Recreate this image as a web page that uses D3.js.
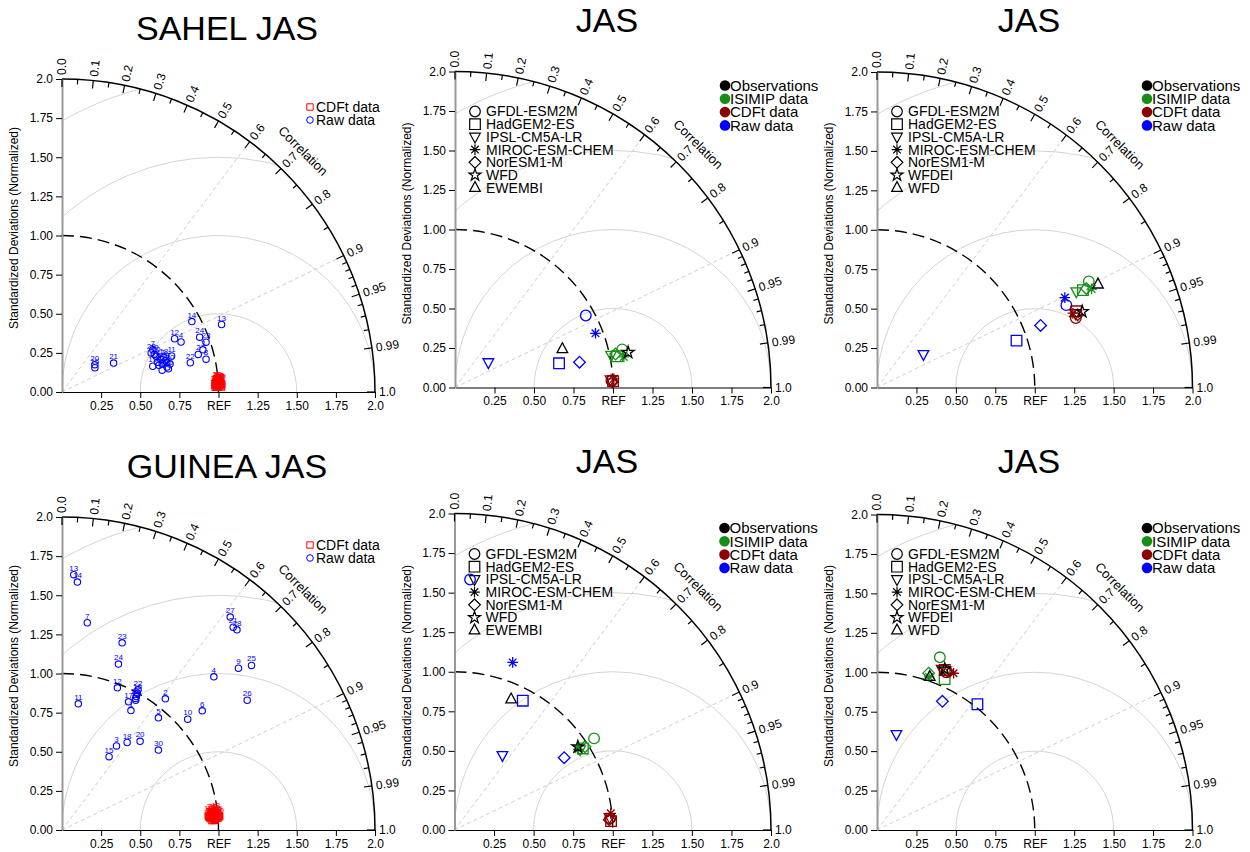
<!DOCTYPE html>
<html>
<head>
<meta charset="utf-8">
<script src="https://cdn.jsdelivr.net/npm/d3@7"></script>
<style>
  body { margin: 0; background: #fff; }
  text { font-family: "Liberation Sans", Arial, Helvetica, sans-serif; }
</style>
</head>
<body>
<script>
// ---- data (normalized standard deviation + correlation) ----
const sahelRawSd = [0.643,0.903,0.940,0.825,0.665,0.689,0.640,0.944,0.690,0.643,0.737,0.796,1.107,0.944,0.655,0.261,0.664,0.686,0.603,0.273,0.378,0.841,0.974,0.947,0.696,0.639,0.696,0.622,0.637,0.713];
const sahelRawCor = [0.964,0.964,0.958,0.922,0.963,0.973,0.907,0.975,0.957,0.934,0.950,0.904,0.921,0.879,0.977,0.805,0.949,0.947,0.962,0.768,0.872,0.975,0.945,0.929,0.977,0.955,0.962,0.916,0.926,0.968];
const sahelCdftSd = [1.00,0.99,1.01,0.98,1.02,1.00,0.99,1.01,1.00,0.98,1.02,0.99,1.00,1.01,0.99,1.00,1.02,0.98,1.01,1.00,0.99,1.00,1.01,0.99,1.02,1.00,0.98,1.01,1.00,0.99];
const sahelCdftCor = [0.999,0.998,0.999,0.9985,0.999,0.9995,0.998,0.9985,0.999,0.999,0.9995,0.9975,0.999,0.998,0.9992,0.9985,0.9988,0.9995,0.9978,0.9992,0.9985,0.999,0.9982,0.9995,0.9985,0.998,0.999,0.9992,0.9975,0.9988];

const guineaRawSd = [0.881,1.067,0.640,1.378,0.945,1.176,1.334,0.976,1.530,1.071,0.813,0.975,1.633,1.587,0.557,0.998,0.923,0.697,0.953,0.755,1.696,1.019,1.256,1.120,1.604,1.445,1.734,1.699,0.963,0.800];
const guineaRawCor = [0.500,0.619,0.544,0.704,0.652,0.762,0.121,0.487,0.737,0.750,0.128,0.363,0.046,0.062,0.540,0.483,0.461,0.597,0.494,0.661,0.645,0.477,0.306,0.322,0.755,0.819,0.620,0.658,0.488,0.770];
const guineaCdftSd = [0.97,0.95,0.99,0.96,1.00,0.98,0.94,0.97,1.01,0.96,0.98,0.95,0.99,0.97,1.00,0.96,0.98,0.94,0.99,0.97,0.95,1.00,0.98,0.96,0.97,0.99,0.95,0.98,1.01,0.97];
const guineaCdftCor = [0.996,0.997,0.995,0.9965,0.997,0.994,0.996,0.998,0.996,0.995,0.9975,0.996,0.993,0.997,0.9955,0.998,0.996,0.995,0.997,0.994,0.9965,0.996,0.998,0.9935,0.995,0.997,0.996,0.9945,0.9965,0.997];
const stationLabels = d3.range(1, 31);

const models = ["GFDL-ESM2M", "HadGEM2-ES", "IPSL-CM5A-LR", "MIROC-ESM-CHEM", "NorESM1-M"];
const modelShapes = ["circle", "square", "triDown", "asterisk", "diamond"];
const groupNames = ["Observations", "ISIMIP data", "CDFt data", "Raw data"];

// top middle
const sahelEnsRefs = ["WFD", "EWEMBI"];
const sahelEnsRawSd = [0.945,0.676,0.264,0.953,0.804];
const sahelEnsRawCor = [0.876,0.974,0.800,0.933,0.980];
const sahelEnsIsimipSd = [1.085,1.045,1.009,1.086,1.038];
const sahelEnsIsimipCor = [0.975,0.982,0.979,0.984,0.979];
const sahelEnsCdftSd = [0.991,1.001,0.986,1.007,0.996];
const sahelEnsCdftCor = [0.999,0.9992,0.9987,0.9985,0.9994];
const sahelEnsObsSd = [1.118,0.722];
const sahelEnsObsCor = [0.980,0.941];

// top right
const sahelEns2Refs = ["WFDEI", "WFD"];
const sahelEns2RawSd = [1.309,0.933,0.362,1.320,1.109];
const sahelEns2RawCor = [0.917,0.948,0.813,0.902,0.935];
const sahelEns2IsimipSd = [1.502,1.444,1.402,1.497,1.468];
const sahelEns2IsimipCor = [0.894,0.904,0.901,0.909,0.904];
const sahelEns2CdftSd = [1.335,1.352,1.344,1.328,1.353];
const sahelEns2CdftCor = [0.944,0.934,0.937,0.935,0.940];
const sahelEns2ObsSd = [1.387,1.546];
const sahelEns2ObsCor = [0.938,0.906];

// bottom middle
const guineaEnsRefs = ["WFD", "EWEMBI"];
const guineaEnsRawSd = [1.586,0.924,0.561,1.121,0.830];
const guineaEnsRawCor = [0.062,0.467,0.540,0.328,0.835];
const guineaEnsIsimipSd = [1.055,0.961,0.943,0.934,0.978];
const guineaEnsIsimipCor = [0.836,0.844,0.842,0.838,0.843];
const guineaEnsCdftSd = [0.986,0.991,0.983,0.993,0.980];
const guineaEnsCdftCor = [0.9972,0.9984,0.9967,0.9944,0.9978];
const guineaEnsObsSd = [0.940,0.901];
const guineaEnsObsCor = [0.829,0.397];

// bottom right
const guineaEns2Refs = ["WFDEI", "WFD"];
const guineaEns2RawSd = [null,1.020,0.619,null,0.915];
const guineaEns2RawCor = [null,0.624,0.199,null,0.453];
const guineaEns2IsimipSd = [1.165,1.048,1.094,1.025,1.047];
const guineaEns2IsimipCor = [0.342,0.409,0.384,0.322,0.313];
const guineaEns2CdftSd = [1.093,1.102,1.099,1.106,1.101];
const guineaEns2CdftCor = [0.403,0.390,0.373,0.439,0.409];
const guineaEns2ObsSd = [1.107,1.028];
const guineaEns2ObsCor = [0.388,0.325];

const sdTicks = [0, 0.25, 0.5, 0.75, 1, 1.25, 1.5, 1.75, 2];
const corLabels = [0, 0.1, 0.2, 0.3, 0.4, 0.5, 0.6, 0.7, 0.8, 0.9, 0.95, 0.99, 1];
const corMinor = [0.05,0.15,0.25,0.35,0.45,0.55,0.65,0.75,0.85,0.91,0.92,0.93,0.94,0.96,0.97,0.98];

const BLUE = "#0000ff", GREEN = "#168f16", DARKRED = "#8b0000", RED = "#ff0000";
const FONT = '"Liberation Sans", Arial, Helvetica, sans-serif';

const svg = d3.select("body").append("svg")
  .attr("width", 1250).attr("height", 852)
  .style("background", "#fff");

function shape(name, s) {
  switch (name) {
    case "circle": return d3.symbol(d3.symbolCircle, Math.PI * s * s)();
    case "square": return d3.symbol(d3.symbolSquare, 4 * s * s)();
    case "diamond": return `M0,${-s * 1.1}L${s * 1.1},0L0,${s * 1.1}L${-s * 1.1},0Z`;
    case "triUp": return `M0,${-s * 1.15}L${s},${s * 0.7}L${-s},${s * 0.7}Z`;
    case "triDown": return `M0,${s * 1.15}L${s},${-s * 0.7}L${-s},${-s * 0.7}Z`;
    case "star": return d3.symbol(d3.symbolStar, Math.pow(s * 1.2, 2) / 0.8908)();
    case "asterisk": {
      const b = s * 0.72;
      return `M${-s},0L${s},0M0,${-s}L0,${s}M${-b},${-b}L${b},${b}M${-b},${b}L${b},${-b}`;
    }
  }
}

function drawFrame(p) {
  const R = p.R;
  const g = svg.append("g").attr("transform", `translate(${p.ox},${p.oy})`);
  const x = d3.scaleLinear().domain([0, 2]).range([0, R]);
  const y = d3.scaleLinear().domain([0, 2]).range([0, -R]);
  const pos = (sd, cor) => [x(sd * cor), y(sd * Math.sqrt(1 - cor * cor))];

  svg.append("text")
    .attr("x", p.tx).attr("y", p.ty)
    .attr("text-anchor", "middle")
    .attr("font-size", 34)
    .text(p.title);

  const clipId = "clip" + p.id;
  g.append("clipPath").attr("id", clipId).append("path")
    .attr("d", `M0,0L${R},0A${R},${R} 0 0 0 0,${-R}Z`);

  // centred rms arcs around REF
  [0.5, 1, 1.5, 2].forEach(rr => {
    const pth = d3.path();
    pth.moveTo(x(1) - x(rr), 0);
    pth.arc(x(1), 0, x(rr), Math.PI, 2 * Math.PI);
    g.append("path").attr("d", pth.toString())
      .attr("clip-path", `url(#${clipId})`)
      .attr("fill", "none").attr("stroke", "#d4d4d4").attr("stroke-width", 1);
  });

  // correlation guide lines
  [0.6, 0.9].forEach(c => {
    const [px, py] = pos(2, c);
    g.append("line").attr("x1", 0).attr("y1", 0).attr("x2", px).attr("y2", py)
      .attr("stroke", "#cfcfcf").attr("stroke-dasharray", "4,3").attr("stroke-width", 1);
  });

  // reference sd arc
  const refArc = d3.path();
  refArc.moveTo(0, y(1));
  refArc.arc(0, 0, x(1), -Math.PI / 2, 0);
  g.append("path").attr("d", refArc.toString())
    .attr("fill", "none").attr("stroke", "#000").attr("stroke-width", 1.4)
    .attr("stroke-dasharray", "12,6");

  // outer arc
  const outer = d3.path();
  outer.moveTo(0, -R);
  outer.arc(0, 0, R, -Math.PI / 2, 0);
  g.append("path").attr("d", outer.toString())
    .attr("fill", "none").attr("stroke", "#000").attr("stroke-width", 1.5);

  // axes
  const xa = g.append("g")
    .call(d3.axisBottom(x).tickValues(sdTicks.slice(1))
      .tickFormat(d => d === 1 ? "REF" : d === 2 ? "2.0" : d.toFixed(2))
      .tickSize(6).tickSizeOuter(0).tickPadding(3));
  const ya = g.append("g")
    .call(d3.axisLeft(y).tickValues(sdTicks)
      .tickFormat(d => d === 2 ? "2.0" : d.toFixed(2))
      .tickSize(6).tickSizeOuter(0).tickPadding(3));
  [xa, ya].forEach(a => a.attr("font-size", 12).attr("font-family", FONT));
  xa.select(".domain").attr("stroke", "#000").attr("stroke-width", 1.2);
  ya.select(".domain").attr("stroke", "#999").attr("stroke-width", 2);

  g.append("text")
    .attr("transform", `translate(-44,-164) rotate(-90)`)
    .attr("text-anchor", "middle").attr("font-size", 12)
    .text("Standardized Deviations (Normalized)");

  // correlation ticks and labels
  const tickAt = (c, len) => {
    const th = Math.acos(c);
    g.append("line")
      .attr("x1", R * Math.cos(th)).attr("y1", -R * Math.sin(th))
      .attr("x2", (R - len) * Math.cos(th)).attr("y2", -(R - len) * Math.sin(th))
      .attr("stroke", "#000").attr("stroke-width", 1.2);
  };
  corLabels.forEach(c => tickAt(c, 8));
  corMinor.forEach(c => tickAt(c, 5));
  corLabels.forEach(c => {
    const deg = Math.acos(c) * 180 / Math.PI;
    g.append("text")
      .attr("transform", `rotate(${-deg}) translate(${R + 4},0)`)
      .attr("dy", "0.35em").attr("font-size", 12)
      .text(c === 0 ? "0.0" : c === 1 ? "1.0" : String(c));
  });
  g.append("text")
    .attr("transform", `rotate(-45) translate(${R + 28},0) rotate(90)`)
    .attr("text-anchor", "middle").attr("dy", "0.35em").attr("font-size", 13)
    .text("Correlation");

  return { g, x, y, pos };
}

function drawStations(p) {
  const { g, pos } = drawFrame(p);
  // legend
  g.append("path").attr("d", shape("square", 3.2))
    .attr("transform", "translate(248,-285)")
    .attr("fill", "none").attr("stroke", RED);
  g.append("path").attr("d", shape("circle", 3.3))
    .attr("transform", "translate(248,-272)")
    .attr("fill", "none").attr("stroke", BLUE);
  g.append("text").attr("x", 254).attr("y", -285).attr("dy", "0.35em")
    .attr("font-size", 14).text("CDFt data");
  g.append("text").attr("x", 254).attr("y", -272).attr("dy", "0.35em")
    .attr("font-size", 14).text("Raw data");

  const layer = (sds, cors, shp, size, color) => {
    sds.forEach((sd, i) => {
      const [px, py] = pos(sd, cors[i]);
      g.append("path").attr("d", shape(shp, size))
        .attr("transform", `translate(${px},${py})`)
        .attr("fill", "none").attr("stroke", color).attr("stroke-width", 1.1);
      g.append("text").attr("x", px).attr("y", py - 4)
        .attr("text-anchor", "middle").attr("font-size", 8)
        .attr("fill", color).text(stationLabels[i]);
    });
  };
  layer(p.rawSd, p.rawCor, "circle", 3.2, BLUE);
  layer(p.cdftSd, p.cdftCor, "square", 3.2, RED);
}

function drawEnsemble(p) {
  const { g, pos } = drawFrame(p);
  // model legend
  const names = models.concat(p.refs);
  const shapes = modelShapes.concat(["star", "triUp"]);
  names.forEach((n, i) => {
    const ly = -276 + i * 12.7;
    g.append("path").attr("d", shape(shapes[i], 5.3))
      .attr("transform", `translate(20,${ly})`)
      .attr("fill", "none").attr("stroke", "#000").attr("stroke-width", 1.2);
    g.append("text").attr("x", 31).attr("y", ly).attr("dy", "0.35em")
      .attr("font-size", 14).text(n);
  });
  // group legend
  const colors = ["#000", GREEN, DARKRED, BLUE];
  groupNames.forEach((n, i) => {
    const ly = -302 + i * 13.3;
    g.append("circle").attr("cx", 270).attr("cy", ly).attr("r", 5.3).attr("fill", colors[i]);
    g.append("text").attr("x", 275).attr("y", ly).attr("dy", "0.35em")
      .attr("font-size", 15).text(n);
  });

  const layer = (sds, cors, shps, color) => {
    sds.forEach((sd, i) => {
      if (sd == null) return;
      const [px, py] = pos(sd, cors[i]);
      g.append("path").attr("d", shape(shps[i], 5.3))
        .attr("transform", `translate(${px},${py})`)
        .attr("fill", "none").attr("stroke", color).attr("stroke-width", 1.3);
    });
  };
  layer(p.rawSd, p.rawCor, modelShapes, BLUE);
  layer(p.isimipSd, p.isimipCor, modelShapes, GREEN);
  layer(p.cdftSd, p.cdftCor, modelShapes, DARKRED);
  layer(p.obsSd, p.obsCor, ["star", "triUp"], "#000");
}

drawStations({ id: 1, ox: 62, oy: 392, R: 313, title: "SAHEL JAS", tx: 227, ty: 40,
  rawSd: sahelRawSd, rawCor: sahelRawCor, cdftSd: sahelCdftSd, cdftCor: sahelCdftCor });
drawEnsemble({ id: 2, ox: 455, oy: 387.5, R: 316, title: "JAS", tx: 607, ty: 32, refs: sahelEnsRefs,
  rawSd: sahelEnsRawSd, rawCor: sahelEnsRawCor, isimipSd: sahelEnsIsimipSd, isimipCor: sahelEnsIsimipCor,
  cdftSd: sahelEnsCdftSd, cdftCor: sahelEnsCdftCor, obsSd: sahelEnsObsSd, obsCor: sahelEnsObsCor });
drawEnsemble({ id: 3, ox: 877, oy: 387.5, R: 315.5, title: "JAS", tx: 1029, ty: 32, refs: sahelEns2Refs,
  rawSd: sahelEns2RawSd, rawCor: sahelEns2RawCor, isimipSd: sahelEns2IsimipSd, isimipCor: sahelEns2IsimipCor,
  cdftSd: sahelEns2CdftSd, cdftCor: sahelEns2CdftCor, obsSd: sahelEns2ObsSd, obsCor: sahelEns2ObsCor });
drawStations({ id: 4, ox: 62, oy: 830, R: 313, title: "GUINEA JAS", tx: 227, ty: 478,
  rawSd: guineaRawSd, rawCor: guineaRawCor, cdftSd: guineaCdftSd, cdftCor: guineaCdftCor });
drawEnsemble({ id: 5, ox: 454.5, oy: 830, R: 316.5, title: "JAS", tx: 607, ty: 473, refs: guineaEnsRefs,
  rawSd: guineaEnsRawSd, rawCor: guineaEnsRawCor, isimipSd: guineaEnsIsimipSd, isimipCor: guineaEnsIsimipCor,
  cdftSd: guineaEnsCdftSd, cdftCor: guineaEnsCdftCor, obsSd: guineaEnsObsSd, obsCor: guineaEnsObsCor });
drawEnsemble({ id: 6, ox: 877, oy: 830, R: 315.5, title: "JAS", tx: 1029, ty: 473, refs: guineaEns2Refs,
  rawSd: guineaEns2RawSd, rawCor: guineaEns2RawCor, isimipSd: guineaEns2IsimipSd, isimipCor: guineaEns2IsimipCor,
  cdftSd: guineaEns2CdftSd, cdftCor: guineaEns2CdftCor, obsSd: guineaEns2ObsSd, obsCor: guineaEns2ObsCor });
</script>
</body>
</html>
